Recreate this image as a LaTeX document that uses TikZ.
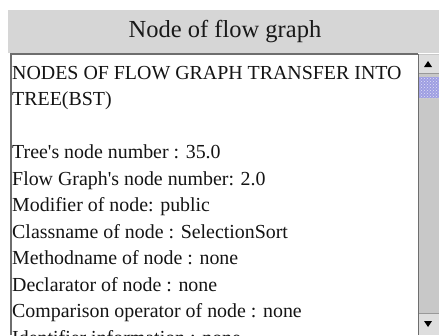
\documentclass[tikz,border=0pt]{standalone}
\usepackage{fontspec}
\setmainfont{Liberation Serif}
\usetikzlibrary{patterns}
\definecolor{headgray}{RGB}{214,214,214}
\definecolor{trackgray}{RGB}{200,200,200}
\definecolor{framegray}{RGB}{110,110,110}
\definecolor{thumbblue}{RGB}{158,158,226}
\definecolor{btngray}{RGB}{222,222,222}
\tikzset{
  textline/.style={anchor=base west, inner sep=0pt, text=black!92,
    font=\fontsize{19.9}{23}\selectfont},
}

\begin{document}
\begin{tikzpicture}[x=1pt,y=-1pt]
    \useasboundingbox (0,0) rectangle (439,335);
    \fill[white] (0,0) rectangle (439,335);
    % header
    \fill[headgray] (8,10) rectangle (439,53);
    \node[inner sep=0pt, text=black!90, font=\fontsize{24.5}{28}\selectfont] (title) at (225,32) {Node of flow graph};
    % text area
    \fill[white] (10,53) rectangle (418,335);
    \draw[framegray, line width=1.6pt] (11,335) -- (11,54) -- (418,54);
    \begin{scope}
    \clip (12,55) rectangle (418,335);
    \node[textline] (l1) at (12,79) {NODES OF FLOW GRAPH TRANSFER INTO};
    \node[textline] (l2) at (12,105.5) {TREE(BST)};
    \node[textline] (l3) at (12,158.5) {Tree\textquotesingle s node number : 35.0};
    \node[textline] (l4) at (12,185) {Flow Graph\textquotesingle s node number: 2.0};
    \node[textline] (l5) at (12,211.5) {Modifier of node: public};
    \node[textline] (l6) at (12,238) {Classname of node : SelectionSort};
    \node[textline] (l7) at (12,264.5) {Methodname of node : none};
    \node[textline] (l8) at (12,291) {Declarator of node : none};
    \node[textline] (l9) at (12,317.5) {Comparison operator of node : none};
    \node[textline] (l10) at (12,344) {Identifier information : none};
    \end{scope}
    % scrollbar
    \fill[trackgray] (418,54) rectangle (439,335);
    \draw[framegray, line width=0.8pt] (418.4,54) -- (418.4,335);
    \fill[btngray] (419,55) rectangle (439,73);
    \fill[btngray] (419,313) rectangle (439,335);
    \draw[gray!80, line width=0.5pt] (419,73) -- (439,73);
    \draw[gray!80, line width=0.5pt] (419,313) -- (439,313);
    \fill[black] (424,67) -- (432,67) -- (428,61) -- cycle;
    \fill[black] (424,321) -- (432,321) -- (428,327) -- cycle;
    \fill[thumbblue] (419,77) rectangle (439,98);
    \fill[pattern=crosshatch dots, pattern color=white!70!thumbblue] (419,77) rectangle (439,98);
  \end{tikzpicture}
\end{document}
